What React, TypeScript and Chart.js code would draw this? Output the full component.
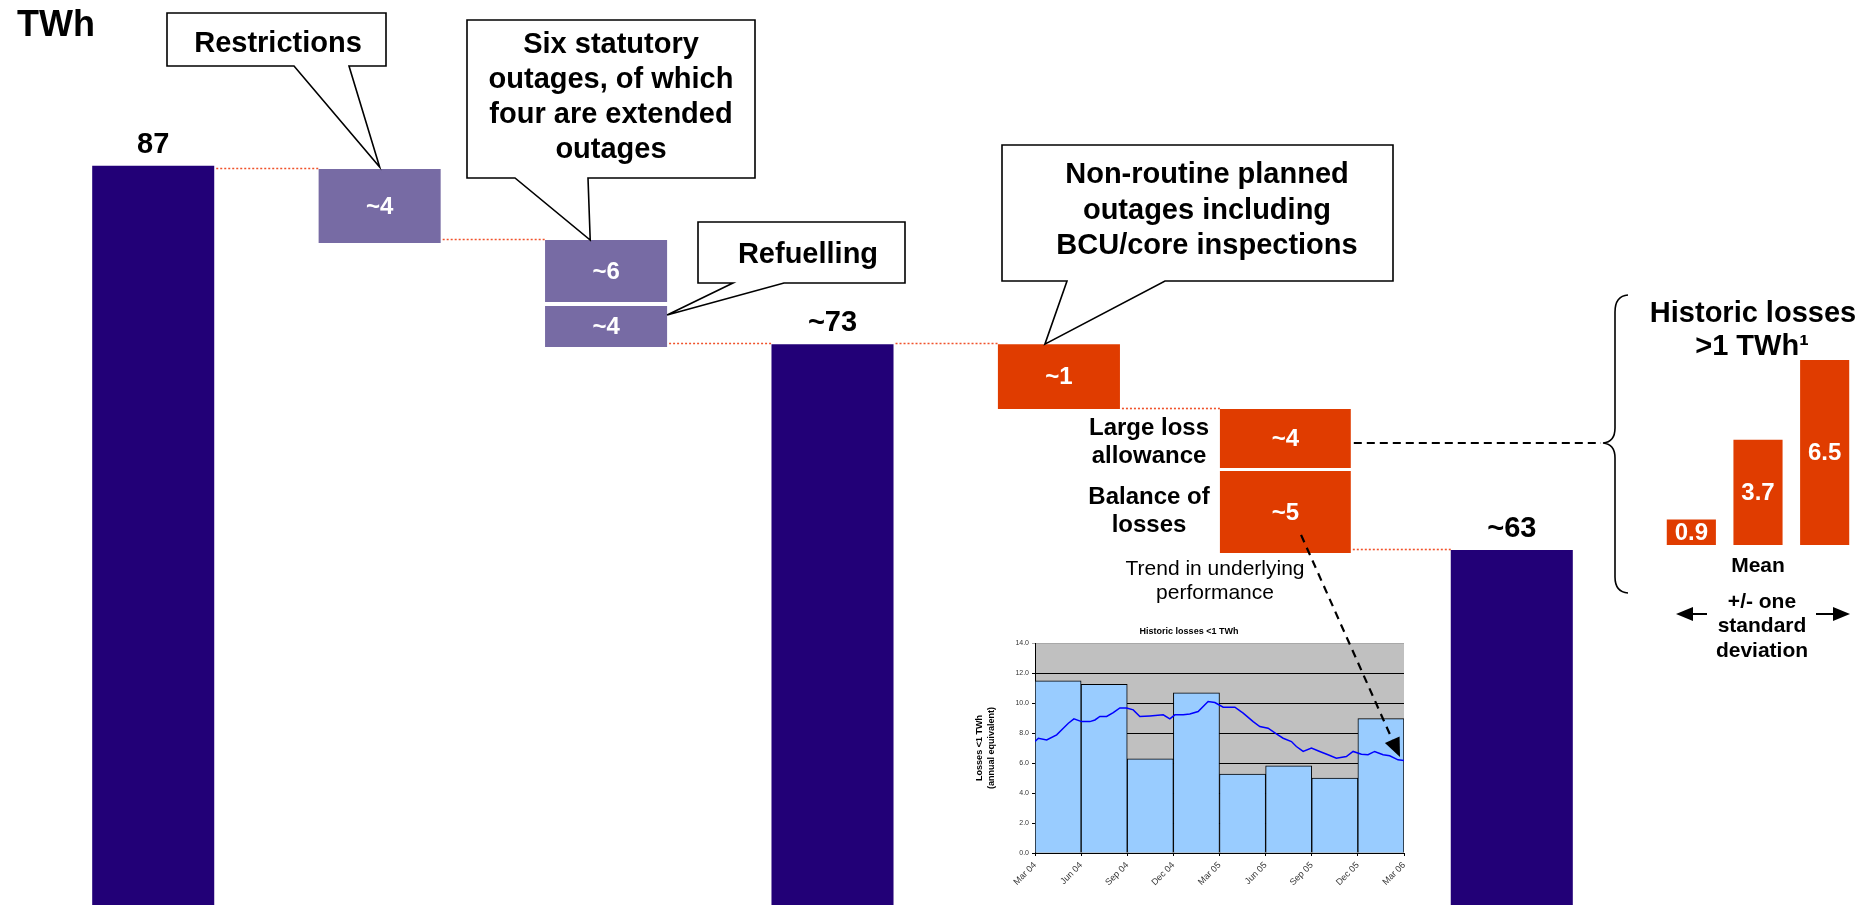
import React, { useEffect, useRef } from 'react';
import { Chart, registerables } from 'chart.js';

Chart.register(...registerables);

const FONT = '"Liberation Sans", Arial, Helvetica, sans-serif';

const NAVY = '#220077';
const LAVENDER = '#776BA4';
const ORANGE = '#E03C00';
const DOTTED = '#F0522A';

// ---------------- Main waterfall (schematic source: levels on an implied vertical scale) ----------------
const steps = ['Start', 'Restrictions', 'Statutory outages', 'After planned outages', 'Non-routine planned', 'Losses', 'End'];
const totalLevels = [87, null, null, 73, null, null, 56.85];
const totalLabels = ['87', null, null, '~73', null, null, '~63'];
const restrictionsAndStatutory = [null, [80.94, 86.74], [76.31, 81.17], null, null, null, null];
const restrictionsAndStatutoryLabels = [null, '~4', '~6', null, null, null, null];
const refuellingRange = [null, null, [72.78, 75.99], null, null, null, null];
const refuellingLabels = [null, null, '~4', null, null, null, null];
const nonRoutineRange = [null, null, null, null, [67.91, 73.0], null, null];
const nonRoutineLabels = [null, null, null, null, '~1', null, null];
const largeLossRange = [null, null, null, null, null, [63.28, 67.91], null];
const largeLossLabels = [null, null, null, null, null, '~4', null];
const balanceRange = [null, null, null, null, null, [56.62, 63.05], null];
const balanceLabels = [null, null, null, null, null, '~5', null];

// ---------------- Inset: historic losses < 1 TWh ----------------
const insetTickLabels = ['Mar 04', 'Jun 04', 'Sep 04', 'Dec 04', 'Mar 05', 'Jun 05', 'Sep 05', 'Dec 05', 'Mar 06'];
const quarterLosses = [11.47, 11.25, 6.27, 10.67, 5.26, 5.81, 4.99, 8.96];
const trendMonths = [0, 0.22, 0.76, 1.41, 1.84, 2.17, 2.53, 3.03, 3.57, 3.9, 4.22, 4.66, 5.09, 5.52, 5.96, 6.39, 6.82, 7.47, 8.34, 8.77, 9.1, 9.64, 10.07, 10.61, 11.26, 11.7, 12.24, 13.0, 13.54, 14.19, 14.62, 15.16, 15.7, 16.14, 16.68, 17.0, 17.44, 17.98, 18.52, 19.06, 19.6, 20.25, 20.69, 21.23, 21.66, 22.09, 22.64, 23.07, 23.61, 24.0];
const trendValues = [7.43, 7.65, 7.54, 7.88, 8.32, 8.65, 8.94, 8.76, 8.76, 8.87, 9.1, 9.1, 9.36, 9.67, 9.67, 9.54, 9.1, 9.14, 9.21, 8.94, 9.21, 9.21, 9.27, 9.43, 10.1, 10.03, 9.72, 9.72, 9.32, 8.76, 8.43, 8.32, 7.94, 7.65, 7.43, 7.1, 6.77, 6.99, 6.77, 6.55, 6.32, 6.43, 6.77, 6.59, 6.55, 6.77, 6.55, 6.48, 6.21, 6.17];

// ---------------- Side: historic losses > 1 TWh ----------------
const sideLabels = ['Mean - 1 SD', 'Mean', 'Mean + 1 SD'];
const sideValues = [0.9, 3.7, 6.5];

type Box = { left: number; right: number; top: number; bottom: number; cx: number };

function boxOf(chart: any, ds: number, i: number): Box | null {
  const v = chart.data.datasets[ds].data[i];
  if (v == null) return null;
  const el = chart.getDatasetMeta(ds).data[i];
  if (!el) return null;
  const { x, y, base, width } = el.getProps(['x', 'y', 'base', 'width'], true);
  return { left: x - width / 2, right: x + width / 2, top: Math.min(y, base), bottom: Math.max(y, base), cx: x };
}

function anchorPoint(chart: any, a: { ds: number; i: number; fx: number; fy: number; dy?: number }) {
  const b = boxOf(chart, a.ds, a.i)!;
  return { x: b.left + (b.right - b.left) * a.fx, y: b.top + (b.bottom - b.top) * a.fy + (a.dy || 0) };
}

function drawText(ctx: CanvasRenderingContext2D, s: string, x: number, y: number, font: string, color = '#000', align: CanvasTextAlign = 'center', baseline: CanvasTextBaseline = 'alphabetic') {
  ctx.save();
  ctx.font = font;
  ctx.fillStyle = color;
  ctx.textAlign = align;
  ctx.textBaseline = baseline;
  ctx.fillText(s, x, y);
  ctx.restore();
}

function drawArrow(ctx: CanvasRenderingContext2D, x0: number, y0: number, x1: number, y1: number, dash: number[], lw: number, headLen: number, headW: number) {
  const ang = Math.atan2(y1 - y0, x1 - x0);
  const bx = x1 - headLen * Math.cos(ang);
  const by = y1 - headLen * Math.sin(ang);
  ctx.save();
  ctx.strokeStyle = '#000';
  ctx.fillStyle = '#000';
  ctx.lineWidth = lw;
  ctx.setLineDash(dash);
  ctx.beginPath();
  ctx.moveTo(x0, y0);
  ctx.lineTo(bx, by);
  ctx.stroke();
  ctx.setLineDash([]);
  ctx.beginPath();
  ctx.moveTo(x1, y1);
  ctx.lineTo(bx + headW * Math.sin(ang), by - headW * Math.cos(ang));
  ctx.lineTo(bx - headW * Math.sin(ang), by + headW * Math.cos(ang));
  ctx.closePath();
  ctx.fill();
  ctx.restore();
}

const callouts = [
  { lines: ['Restrictions'], rect: [167, 13, 386, 66], textX: 278, firstBaseline: 52, lineGap: 35, notch: [294, 349], anchor: { ds: 1, i: 1, fx: 0.5, fy: 0, dy: -2 } },
  { lines: ['Six statutory', 'outages, of which', 'four are extended', 'outages'], rect: [467, 20, 755, 178], textX: 611, firstBaseline: 53, lineGap: 35, notch: [515, 588], anchor: { ds: 1, i: 2, fx: 0.37, fy: 0 } },
  { lines: ['Refuelling'], rect: [698, 222, 905, 283], textX: 808, firstBaseline: 263, lineGap: 35, notch: [733, 784], anchor: { ds: 2, i: 2, fx: 1, fy: 0.22 } },
  { lines: ['Non-routine planned', 'outages including', 'BCU/core inspections'], rect: [1002, 145, 1393, 281], textX: 1207, firstBaseline: 183, lineGap: 35.5, notch: [1067, 1165], anchor: { ds: 3, i: 4, fx: 0.385, fy: 0 } },
];

const waterfallAnnotations = {
  id: 'waterfallAnnotations',
  afterDatasetsDraw(chart: any) {
    const ctx: CanvasRenderingContext2D = chart.ctx;
    const nDs = chart.data.datasets.length;
    const nCat = chart.data.labels.length;

    // dotted connectors between consecutive steps
    const catBoxes: Box[][] = [];
    for (let i = 0; i < nCat; i++) {
      const list: Box[] = [];
      for (let d = 0; d < nDs; d++) {
        const b = boxOf(chart, d, i);
        if (b) list.push(b);
      }
      catBoxes.push(list);
    }
    ctx.save();
    ctx.strokeStyle = DOTTED;
    ctx.lineWidth = 1.6;
    ctx.setLineDash([2, 2]);
    for (let i = 0; i < nCat - 1; i++) {
      const a = catBoxes[i];
      const b = catBoxes[i + 1];
      if (!a.length || !b.length) continue;
      const x0 = Math.max(...a.map((o) => o.right));
      const x1 = Math.min(...b.map((o) => o.left));
      const y = Math.round(Math.min(...b.map((o) => o.top))) - 0.5;
      ctx.beginPath();
      ctx.moveTo(x0 + 2, y);
      ctx.lineTo(x1, y);
      ctx.stroke();
    }
    ctx.restore();

    // value labels
    chart.data.datasets.forEach((ds: any, d: number) => {
      (ds.valueLabels || []).forEach((lab: string | null, i: number) => {
        if (!lab) return;
        const b = boxOf(chart, d, i);
        if (!b) return;
        if (ds.labelAbove) {
          drawText(ctx, lab, b.cx, b.top - 13, `bold 29px ${FONT}`, '#000');
        } else {
          drawText(ctx, lab, b.cx, (b.top + b.bottom) / 2 + 1, `bold 24px ${FONT}`, '#fff', 'center', 'middle');
        }
      });
    });

    // unit
    drawText(ctx, 'TWh', 17, 36, `bold 36px ${FONT}`, '#000', 'left');

    // callouts
    callouts.forEach((c) => {
      const tip = anchorPoint(chart, c.anchor);
      const [x0, y0, x1, y1] = c.rect;
      ctx.save();
      ctx.beginPath();
      ctx.moveTo(x0, y0);
      ctx.lineTo(x1, y0);
      ctx.lineTo(x1, y1);
      ctx.lineTo(c.notch[1], y1);
      ctx.lineTo(tip.x, tip.y);
      ctx.lineTo(c.notch[0], y1);
      ctx.lineTo(x0, y1);
      ctx.closePath();
      ctx.fillStyle = '#fff';
      ctx.fill();
      ctx.lineWidth = 1.6;
      ctx.strokeStyle = '#000';
      ctx.lineJoin = 'miter';
      ctx.stroke();
      ctx.restore();
      c.lines.forEach((ln, k) => drawText(ctx, ln, c.textX, c.firstBaseline + k * c.lineGap, `bold 29px ${FONT}`));
    });

    // loss labels on the left of the loss boxes
    drawText(ctx, 'Large loss', 1149, 435, `bold 24px ${FONT}`);
    drawText(ctx, 'allowance', 1149, 463, `bold 24px ${FONT}`);
    drawText(ctx, 'Balance of', 1149, 504, `bold 24px ${FONT}`);
    drawText(ctx, 'losses', 1149, 532, `bold 24px ${FONT}`);
    drawText(ctx, 'Trend in underlying', 1215, 575, `21px ${FONT}`);
    drawText(ctx, 'performance', 1215, 599, `21px ${FONT}`);

    // dashed link from large-loss box to the brace
    const link = anchorPoint(chart, { ds: 4, i: 5, fx: 1, fy: 0.58 });
    const braceTipX = 1603;
    const ly = Math.round(link.y);
    ctx.save();
    ctx.strokeStyle = '#000';
    ctx.lineWidth = 2;
    ctx.setLineDash([8, 5]);
    ctx.beginPath();
    ctx.moveTo(link.x + 3, ly);
    ctx.lineTo(braceTipX - 2, ly);
    ctx.stroke();
    ctx.restore();

    // curly brace
    ctx.save();
    ctx.strokeStyle = '#000';
    ctx.lineWidth = 1.6;
    ctx.beginPath();
    ctx.moveTo(1628, 295);
    ctx.quadraticCurveTo(1615, 296, 1615, 312);
    ctx.lineTo(1615, ly - 15);
    ctx.quadraticCurveTo(1615, ly - 1, 1603, ly);
    ctx.quadraticCurveTo(1615, ly + 1, 1615, ly + 15);
    ctx.lineTo(1615, 577);
    ctx.quadraticCurveTo(1615, 592, 1628, 593);
    ctx.stroke();
    ctx.restore();

    // right-hand panel texts
    drawText(ctx, 'Historic losses', 1753, 322, `bold 29px ${FONT}`);
    drawText(ctx, '>1 TWh\u00B9', 1752, 355, `bold 29px ${FONT}`);
    drawText(ctx, 'Mean', 1758, 572, `bold 21px ${FONT}`);
    drawText(ctx, '+/- one', 1762, 608, `bold 21px ${FONT}`);
    drawText(ctx, 'standard', 1762, 632, `bold 21px ${FONT}`);
    drawText(ctx, 'deviation', 1762, 657, `bold 21px ${FONT}`);
    drawArrow(ctx, 1707, 614, 1676, 614, [], 2, 17, 7);
    drawArrow(ctx, 1816, 614, 1850, 614, [], 2, 17, 7);

    // trend arrow into the inset
    const t0 = anchorPoint(chart, { ds: 5, i: 5, fx: 0.62, fy: 0.78 });
    drawArrow(ctx, t0.x, t0.y, 1400, 757, [8, 6], 2.2, 19, 8);
  },
};

const plotBackground = {
  id: 'plotBackground',
  beforeDraw(chart: any) {
    const { ctx, chartArea } = chart;
    if (!chartArea) return;
    ctx.save();
    ctx.fillStyle = '#C0C0C0';
    ctx.fillRect(chartArea.left, chartArea.top, chartArea.right - chartArea.left, chartArea.bottom - chartArea.top);
    ctx.restore();
  },
};

const sideValueLabels = {
  id: 'sideValueLabels',
  afterDatasetsDraw(chart: any) {
    const ctx = chart.ctx;
    chart.getDatasetMeta(0).data.forEach((el: any, i: number) => {
      const { x, y, base } = el.getProps(['x', 'y', 'base'], true);
      drawText(ctx, String(sideValues[i]), x, (y + base) / 2 + 1, `bold 24px ${FONT}`, '#fff', 'center', 'middle');
    });
  },
};

export default function App() {
  const mainRef = useRef<HTMLCanvasElement>(null);
  const insetRef = useRef<HTMLCanvasElement>(null);
  const sideRef = useRef<HTMLCanvasElement>(null);

  useEffect(() => {
    Chart.defaults.font.family = FONT;
    const barBase = { grouped: false, categoryPercentage: 1, borderWidth: 0 };

    const main = new Chart(mainRef.current!, {
      type: 'bar',
      data: {
        labels: steps,
        datasets: [
          { ...barBase, label: 'Output', data: totalLevels as any, backgroundColor: NAVY, barPercentage: 0.539, valueLabels: totalLabels, labelAbove: true } as any,
          { ...barBase, label: 'Restrictions / statutory outages', data: restrictionsAndStatutory as any, backgroundColor: LAVENDER, barPercentage: 0.539, valueLabels: restrictionsAndStatutoryLabels } as any,
          { ...barBase, label: 'Refuelling', data: refuellingRange as any, backgroundColor: LAVENDER, barPercentage: 0.539, valueLabels: refuellingLabels } as any,
          { ...barBase, label: 'Non-routine planned outages', data: nonRoutineRange as any, backgroundColor: ORANGE, barPercentage: 0.539, valueLabels: nonRoutineLabels } as any,
          { ...barBase, label: 'Large loss allowance', data: largeLossRange as any, backgroundColor: ORANGE, barPercentage: 0.578, valueLabels: largeLossLabels } as any,
          { ...barBase, label: 'Balance of losses', data: balanceRange as any, backgroundColor: ORANGE, barPercentage: 0.578, valueLabels: balanceLabels } as any,
        ],
      },
      options: {
        responsive: false,
        animation: false,
        layout: { padding: { left: 40, right: 250, top: 0, bottom: 0 } },
        scales: {
          x: { display: false },
          y: { display: false, min: 29, max: 100 },
        },
        plugins: { legend: { display: false }, tooltip: { enabled: false }, title: { display: false } },
      },
      plugins: [waterfallAnnotations],
    });

    const inset = new Chart(insetRef.current!, {
      type: 'bar',
      data: {
        datasets: [
          {
            type: 'line',
            label: 'Rolling annual equivalent',
            data: trendMonths.map((m, i) => ({ x: m, y: trendValues[i] })),
            borderColor: '#0000FF',
            borderWidth: 1.5,
            pointRadius: 0,
            tension: 0,
            order: 0,
          } as any,
          {
            type: 'bar',
            label: 'Quarterly losses <1 TWh',
            data: quarterLosses.map((v, i) => ({ x: i * 3 + 1.5, y: v })),
            backgroundColor: '#99CCFF',
            borderColor: '#000000',
            borderWidth: 1,
            barPercentage: 1,
            categoryPercentage: 1,
            order: 1,
          } as any,
        ],
      },
      options: {
        responsive: false,
        animation: false,
        layout: { padding: { left: 24, right: 16, top: 0, bottom: 0 } },
        plugins: {
          legend: { display: false },
          tooltip: { enabled: false },
          title: {
            display: true,
            text: 'Historic losses <1 TWh',
            color: '#000',
            font: { family: FONT, size: 9, weight: 'bold' },
            padding: { top: 6, bottom: 6.2 },
          },
        },
        scales: {
          x: {
            type: 'linear',
            min: 0,
            max: 24,
            offset: false,
            grid: { offset: false, drawOnChartArea: false, drawTicks: true, tickLength: 3, color: '#000' },
            border: { color: '#000', width: 1 },
            ticks: {
              stepSize: 3,
              autoSkip: false,
              minRotation: 45,
              maxRotation: 45,
              padding: 4,
              color: '#333',
              font: { family: FONT, size: 9 },
              callback: (v: any) => insetTickLabels[Math.round(Number(v) / 3)] ?? '',
            },
            afterFit: (s: any) => {
              s.height = 52;
            },
          },
          y: {
            min: 0,
            max: 14,
            grid: { color: (c: any) => (c.tick && c.tick.value === 14 ? '#A8A8A8' : '#000'), tickLength: 3, lineWidth: 1 },
            border: { color: '#000', width: 1 },
            ticks: {
              stepSize: 2,
              color: '#333',
              padding: 3,
              font: { family: FONT, size: 7 },
              callback: (v: any) => Number(v).toFixed(1),
            },
            title: {
              display: true,
              text: ['Losses <1 TWh', '(annual equivalent)'],
              color: '#000',
              font: { family: FONT, size: 9, weight: 'bold', lineHeight: 1.3 },
              padding: 0,
            },
            afterFit: (s: any) => {
              s.width = 61;
            },
          },
        },
      } as any,
      plugins: [plotBackground],
    });

    const side = new Chart(sideRef.current!, {
      type: 'bar',
      data: {
        labels: sideLabels,
        datasets: [{ label: 'Historic losses >1 TWh', data: sideValues, backgroundColor: ORANGE, borderWidth: 0, barPercentage: 0.737, categoryPercentage: 1 }],
      },
      options: {
        responsive: false,
        animation: false,
        layout: { padding: 0 },
        scales: { x: { display: false }, y: { display: false, min: 0, max: 6.5 } },
        plugins: { legend: { display: false }, tooltip: { enabled: false } },
      },
      plugins: [sideValueLabels],
    });

    return () => {
      main.destroy();
      inset.destroy();
      side.destroy();
    };
  }, []);

  return (
    <div style={{ position: 'absolute', left: 0, top: 0, width: 1875, height: 905, background: '#fff', overflow: 'hidden' }}>
      <div style={{ position: 'absolute', left: 950, top: 620, width: 470, height: 285 }}>
        <canvas ref={insetRef} width={470} height={285} />
      </div>
      <div style={{ position: 'absolute', left: 1658, top: 360, width: 200, height: 185 }}>
        <canvas ref={sideRef} width={200} height={185} />
      </div>
      <div style={{ position: 'absolute', left: 0, top: 0, width: 1875, height: 905, pointerEvents: 'none' }}>
        <canvas ref={mainRef} width={1875} height={905} />
      </div>
    </div>
  );
}
